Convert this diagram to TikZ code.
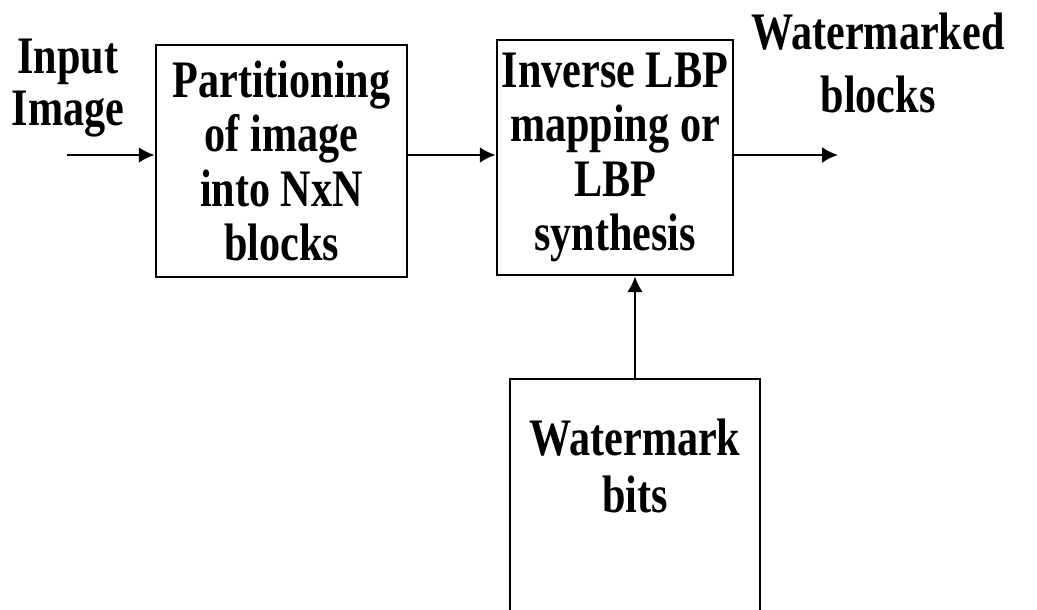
\documentclass[tikz,border=0pt]{standalone}
\usepackage{fontspec}
\setmainfont{Liberation Serif}[FakeStretch=0.8]
\usetikzlibrary{arrows.meta,positioning}
\begin{document}
\begin{tikzpicture}[x=0.02cm,y=-0.02cm,
	blk/.style={draw,line width=1.6pt,inner sep=0pt,align=center,
		font=\bfseries\fontsize{30}{31}\selectfont},
	lbl/.style={inner sep=0pt,align=center,font=\bfseries\fontsize{30}{29.5}\selectfont},
	arr/.style={-{Latex[length=9pt,width=9pt]},line width=1.4pt}]
	\useasboundingbox (0,0) rectangle (1037,609);
	\clip (0,0) rectangle (1037,609);
	%%%%%%%%
	\node[blk,minimum width=5.02cm,minimum height=4.64cm] (part) at (281.5,161)
		{Partitioning\\of image\\into NxN\\blocks};
	\node[blk,minimum width=4.72cm,minimum height=4.7cm] (lbp) at (615,157.5)
		{Inverse LBP\\mapping or\\LBP\\synthesis};
	\node[blk,minimum width=5cm,minimum height=5.22cm] (wbits) at (635,509.5) {};
	\node[lbl,font=\bfseries\fontsize{30}{32}\selectfont] (wtext) at (635,466) {Watermark\\bits};
	%%%%%%%%
	\node[lbl] (input) at (68,88) {Input\\Image};
	\node[lbl,font=\bfseries\fontsize{30}{36}\selectfont] (output) at (878,63) {Watermarked\\blocks};
	\coordinate (start) at (67,155);
	\coordinate (end) at (838,155);
	%%%%%%%%
	\draw[arr] (start) -- (part.west |- start);
	\draw[arr] (part.east |- start) -- (lbp.west |- start);
	\draw[arr] (lbp.east |- end) -- (end);
	\draw[arr] (wbits.north) -- (wbits.north |- lbp.south);
\end{tikzpicture}
\end{document}
